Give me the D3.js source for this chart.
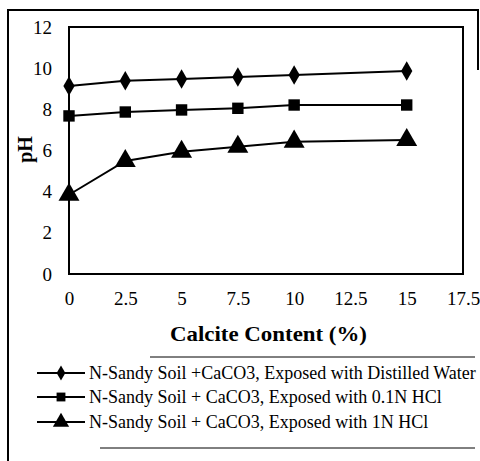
<!DOCTYPE html>
<html><head><meta charset="utf-8">
<script src="https://cdn.jsdelivr.net/npm/d3@7"></script>
<style>body{margin:0;background:#fff}</style>
</head><body>
<svg id="c" width="480" height="461"></svg>
<script>
const xValues = [0, 2.5, 5, 7.5, 10, 15];
const seriesWater = [9.13, 9.39, 9.47, 9.57, 9.67, 9.86];
const seriesHCl01 = [7.68, 7.87, 7.97, 8.05, 8.21, 8.21];
const seriesHCl1 = [3.85, 5.49, 5.94, 6.18, 6.43, 6.51];
const seriesNames = [
  "N-Sandy Soil +CaCO3, Exposed with Distilled Water",
  "N-Sandy Soil + CaCO3, Exposed with 0.1N HCl",
  "N-Sandy Soil + CaCO3, Exposed with 1N HCl"
];
const xTicks = [0, 2.5, 5, 7.5, 10, 12.5, 15, 17.5];
const yTicks = [0, 2, 4, 6, 8, 10, 12];

const svg = d3.select("#c");
const font = "Liberation Serif, Times New Roman, serif";
const L = 69, T = 27, R = 463, B = 274;
const x = d3.scaleLinear().domain([0, 17.5]).range([L, R]);
const y = d3.scaleLinear().domain([0, 12]).range([B, T]);

// outer frame
svg.append("path").attr("d", "M8,461 L8,10 L478,10 L478,70")
  .attr("fill", "none").attr("stroke", "#000").attr("stroke-width", 2);

// plot area
svg.append("rect").attr("x", L).attr("y", T).attr("width", R - L).attr("height", B - T)
  .attr("fill", "none").attr("stroke", "#000").attr("stroke-width", 2);

// axes labels
const yAxis = d3.axisLeft(y).tickValues(yTicks).tickSize(0).tickPadding(17);
const gy = svg.append("g").attr("transform", `translate(${L},0)`).call(yAxis);
gy.select(".domain").remove();
gy.selectAll("text").attr("font-family", font).attr("font-size", 19).attr("fill", "#000");

const xAxis = d3.axisBottom(x).tickValues(xTicks).tickSize(0).tickPadding(18).tickFormat(d => String(d));
const gx = svg.append("g").attr("transform", `translate(0,${B})`).call(xAxis);
gx.select(".domain").remove();
gx.selectAll("text").attr("font-family", font).attr("font-size", 19).attr("fill", "#000");

svg.append("text").attr("x", 170).attr("y", 341)
  .attr("font-family", font).attr("font-size", 21).attr("font-weight", "bold")
  .attr("textLength", 197).attr("lengthAdjust", "spacingAndGlyphs").text("Calcite Content (%)");
svg.append("text").attr("transform", `translate(32,${(T + B) / 2 - 1}) rotate(-90)`).attr("text-anchor", "middle")
  .attr("font-family", font).attr("font-size", 20).attr("font-weight", "bold").text("pH");

const series = [seriesWater, seriesHCl01, seriesHCl1];
const shapes = [d3.symbolDiamond, d3.symbolSquare, d3.symbolTriangle];
const sizes = [110, 130, 190];
const line = d3.line().x(d => x(d[0])).y(d => y(d[1]));
series.forEach((s, i) => {
  const pts = xValues.map((v, j) => [v, s[j]]);
  svg.append("path").attr("d", line(pts)).attr("fill", "none").attr("stroke", "#000").attr("stroke-width", 2);
  svg.selectAll(null).data(pts).enter().append("path")
    .attr("transform", d => `translate(${x(d[0])},${y(d[1])})`)
    .attr("d", d3.symbol().type(shapes[i]).size(sizes[i])).attr("fill", "#000");
});

// legend
svg.append("line").attr("x1", 150).attr("x2", 475).attr("y1", 357).attr("y2", 357).attr("stroke", "#000").attr("stroke-width", 1);
svg.append("line").attr("x1", 100).attr("x2", 475).attr("y1", 448).attr("y2", 448).attr("stroke", "#000").attr("stroke-width", 1);
const ly = [373, 397, 422];
seriesNames.forEach((n, i) => {
  svg.append("line").attr("x1", 37).attr("x2", 85).attr("y1", ly[i]).attr("y2", ly[i]).attr("stroke", "#000").attr("stroke-width", 2);
  svg.append("path").attr("transform", `translate(61,${ly[i]})`)
    .attr("d", d3.symbol().type(shapes[i]).size(sizes[i] * 0.6)).attr("fill", "#000");
  svg.append("text").attr("x", 89).attr("y", ly[i] + 6).attr("font-family", font).attr("font-size", 18).text(n);
});
</script>
</body></html>
